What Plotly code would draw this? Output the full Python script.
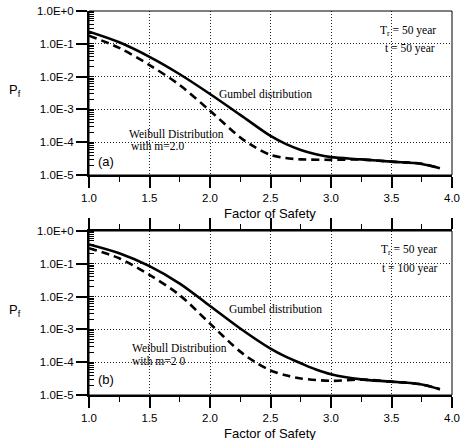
import plotly.graph_objects as go

# ---------------- data ----------------
fs_gumbel = [1.0, 1.25, 1.5, 1.75, 2.0, 2.25, 2.5, 2.625, 2.75, 2.875, 3.0, 3.25, 3.5, 3.75, 3.9]
fs_weibull = [1.0, 1.25, 1.5, 1.75, 2.0, 2.25, 2.375, 2.5, 2.625, 2.75, 3.0, 3.25, 3.5, 3.75, 3.9]

gumbel_a = [0.234, 0.111, 0.040, 0.0118, 2.95e-3, 6.8e-4, 1.55e-4, 8.9e-5, 5.8e-5, 4.3e-5, 3.5e-5,
            3.0e-5, 2.55e-5, 2.17e-5, 1.6e-5]
weibull_a = [0.177, 0.075, 0.0225, 0.0055, 9.1e-4, 1.4e-4, 6.9e-5, 4.1e-5, 3.3e-5, 3.0e-5, 2.9e-5,
             2.95e-5, 2.55e-5, 2.2e-5, 1.6e-5]

gumbel_b = [0.39, 0.21, 0.085, 0.025, 5.2e-3, 1.07e-3, 2.6e-4, 1.48e-4, 9.3e-5, 6.0e-5, 4.3e-5,
            3.0e-5, 2.55e-5, 2.1e-5, 1.5e-5]
weibull_b = [0.30, 0.147, 0.046, 0.011, 1.5e-3, 2.1e-4, 1.0e-4, 5.6e-5, 4.0e-5, 3.2e-5, 2.7e-5,
             2.95e-5, 2.55e-5, 2.1e-5, 1.5e-5]

y_tickvals = [1e-5, 1e-4, 1e-3, 1e-2, 1e-1, 1e0]
y_ticktext = ["1.0E-5", "1.0E-4", "1.0E-3", "1.0E-2", "1.0E-1", "1.0E+0"]
x_tickvals = [1.0, 1.5, 2.0, 2.5, 3.0, 3.5, 4.0]
x_ticktext = ["1.0", "1.5", "2.0", "2.5", "3.0", "3.5", "4.0"]

W, H = 462, 440
def px_x(p): return p / W
def px_y(p): return 1 - p / H

fig = go.Figure()

line_solid = dict(color="black", width=2.6, shape="spline", smoothing=0.9)
line_dash = dict(color="black", width=2.6, dash="8px,5px", shape="spline", smoothing=0.9)

fig.add_trace(go.Scatter(x=fs_gumbel, y=gumbel_a, mode="lines", line=line_solid, xaxis="x", yaxis="y", showlegend=False))
fig.add_trace(go.Scatter(x=fs_weibull, y=weibull_a, mode="lines", line=line_dash, xaxis="x", yaxis="y", showlegend=False))
fig.add_trace(go.Scatter(x=fs_gumbel, y=gumbel_b, mode="lines", line=line_solid, xaxis="x2", yaxis="y2", showlegend=False))
fig.add_trace(go.Scatter(x=fs_weibull, y=weibull_b, mode="lines", line=line_dash, xaxis="x2", yaxis="y2", showlegend=False))

tick_font = dict(family="Liberation Sans, Arial", size=11.5, color="black")

def xaxis_cfg(anchor, mirror):
    return dict(
        domain=[px_x(89), px_x(452)], anchor=anchor, range=[1.0, 4.0],
        tickmode="array", tickvals=x_tickvals, ticktext=x_ticktext,
        ticks="outside", ticklen=11, tickwidth=1.5, tickcolor="black",
        minor=dict(ticks="outside", ticklen=5, tickwidth=1.2, tickcolor="black", dtick=0.25, showgrid=False),
        showline=True, linewidth=2, linecolor="black", mirror=mirror,
        showgrid=True, gridcolor="#222222", gridwidth=1, griddash="1px,2px",
        zeroline=False, tickfont=tick_font, automargin=False,
    )

def yaxis_cfg(anchor, top, bottom):
    return dict(
        domain=[px_y(bottom), px_y(top)], anchor=anchor, type="log", range=[-5, 0],
        tickmode="array", tickvals=y_tickvals, ticktext=y_ticktext,
        ticks="outside", ticklen=11, tickwidth=1.5, tickcolor="black",
        minor=dict(ticks="inside", ticklen=5, tickwidth=1, tickcolor="black", dtick="D1", showgrid=False),
        showline=True, linewidth=2, linecolor="black",
        showgrid=True, gridcolor="#222222", gridwidth=1, griddash="1px,2px",
        zeroline=False, tickfont=tick_font, automargin=False,
    )

fig.update_layout(
    width=W, height=H, margin=dict(l=0, r=0, t=0, b=0),
    paper_bgcolor="white", plot_bgcolor="white",
    xaxis=xaxis_cfg("y", False),
    yaxis=yaxis_cfg("x", 11, 175),
    xaxis2=xaxis_cfg("y2", "ticks"),
    yaxis2=yaxis_cfg("x2", 231, 395),
)

# thin frame around each panel
for xr, yr in [("x domain", "y domain"), ("x2 domain", "y2 domain")]:
    fig.add_shape(type="rect", xref=xr, yref=yr, x0=0, x1=1, y0=0, y1=1,
                  line=dict(color="black", width=1))

serif = dict(family="Liberation Serif, Times New Roman", size=11.5, color="black")
sans = dict(family="Liberation Sans, Arial", size=13, color="black")

def ann(text, x, y, xref, yref, font, xanchor="left", yanchor="middle"):
    fig.add_annotation(text=text, x=x, y=y, xref=xref, yref=yref, showarrow=False,
                       font=font, xanchor=xanchor, yanchor=yanchor, borderpad=0)

# panel (a)
ann("Gumbel distribution", 2.066, -2.53, "x", "y", serif)
ann("Weibull Distribution", 1.32, -3.76, "x", "y", serif)
ann("with m=2.0", 1.34, -4.13, "x", "y", serif)
ann("(a)", 1.066, -4.60, "x", "y", sans)
ann("T<sub>r</sub> = 50 year", 3.876, -0.61, "x", "y", serif, xanchor="right")
ann("t = 50 year", 3.868, -1.13, "x", "y", serif, xanchor="right")

# panel (b)
ann("Gumbel distribution", 2.149, -2.38, "x2", "y2", serif)
ann("Weibull Distribution", 1.347, -3.58, "x2", "y2", serif)
ann("with m=2 0", 1.347, -3.96, "x2", "y2", serif)
ann("(b)", 1.066, -4.54, "x2", "y2", sans)
ann("T<sub>r</sub> = 50 year", 3.884, -0.58, "x2", "y2", serif, xanchor="right")
ann("t = 100 year", 3.893, -1.13, "x2", "y2", serif, xanchor="right")

# axis titles
for py in (90, 310):
    ann("P<sub>f</sub>", px_x(15), px_y(py), "paper", "paper", sans, xanchor="center")
for py in (213, 433):
    ann("Factor of Safety", px_x(270), px_y(py), "paper", "paper", sans, xanchor="center")

fig.write_html("out.html")
